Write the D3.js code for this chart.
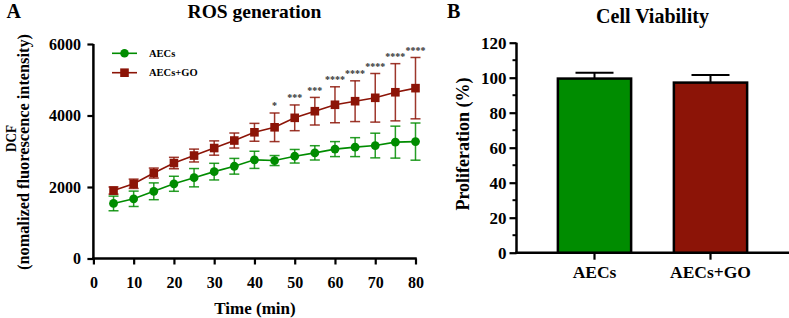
<!DOCTYPE html>
<html>
<head>
<meta charset="utf-8">
<script src="https://cdn.jsdelivr.net/npm/d3@7"></script>
<style>
  html, body { margin: 0; padding: 0; background: #fff; }
  svg { display: block; }
  svg text { font-family: "Liberation Serif", "Times New Roman", serif !important; font-weight: bold; }
</style>
</head>
<body>
<svg id="chart" width="789" height="318"></svg>
<script>
// ---------- Data ----------
const minutes = [5, 10, 15, 20, 25, 30, 35, 40, 45, 50, 55, 60, 65, 70, 75, 80];
const aecsMean = [1540, 1670, 1880, 2090, 2260, 2430, 2580, 2760, 2740, 2860, 2955, 3060, 3115, 3160, 3255, 3270];
const aecsSD   = [205, 215, 235, 210, 256, 233, 220, 240, 140, 190, 200, 210, 265, 345, 447, 520];
const goMean   = [1900, 2090, 2390, 2670, 2880, 3090, 3300, 3530, 3670, 3935, 4120, 4300, 4400, 4495, 4650, 4765];
const goSD     = [100, 130, 140, 160, 180, 200, 210, 250, 400, 360, 386, 503, 570, 680, 800, 858];
const sigLabels = ["", "", "", "", "", "", "", "", "*", "***", "***", "****", "****", "****", "****", "****"];
const timeTicks = [0, 10, 20, 30, 40, 50, 60, 70, 80];
const dcfTicks = [0, 2000, 4000, 6000];

const groups = ["AECs", "AECs+GO"];
const viability = [99.5, 97.2];
const viabilitySD = [3.4, 4.4];
const profTicks = [0, 20, 40, 60, 80, 100, 120];
const profMinorTicks = [10, 30, 50, 70, 90, 110];

const GREEN = "#008c00";
const RED = "#8c1407";
const SERIF = "'Liberation Serif', 'Times New Roman', serif";

const svg = d3.select("#chart");

function styleTickText(sel, size) {
  sel.style("font-family", SERIF).style("font-weight", "bold").style("font-size", size + "px").attr("fill", "#000");
}

// ---------- Panel A ----------
const xA = d3.scaleLinear().domain([0, 80]).range([93.4, 415.5]);
const yA = d3.scaleLinear().domain([0, 6000]).range([258.5, 44]);

const gA = svg.append("g");

const axXA = gA.append("g").attr("transform", `translate(0,${yA(0)})`)
  .call(d3.axisBottom(xA).tickValues(timeTicks).tickSize(6).tickPadding(12.5).tickFormat(d3.format("d")));
const axYA = gA.append("g").attr("transform", `translate(${xA(0)},0)`)
  .call(d3.axisLeft(yA).tickValues(dcfTicks).tickSize(6).tickPadding(6.5).tickFormat(d3.format("d")));
[axXA, axYA].forEach(ax => {
  ax.select(".domain").attr("stroke", "#000").attr("stroke-width", 2.5);
  ax.selectAll(".tick line").attr("stroke", "#000").attr("stroke-width", 2.2);
  styleTickText(ax.selectAll(".tick text"), 16);
});
axXA.select(".domain").attr("d", `M${xA(0) - 1.25},0H${xA(80) + 1.25}`);
axYA.select(".domain").attr("d", `M0,${yA(0) + 1.25}V${yA(6000)}`);

function drawSeries(mean, sd, color, shape) {
  const g = gA.append("g");
  const line = d3.line().x((d, i) => xA(minutes[i])).y(d => yA(d));
  g.append("path").datum(mean).attr("d", line).attr("fill", "none")
    .attr("stroke", color).attr("stroke-width", 1.6);
  const eb = g.selectAll(".eb").data(mean).join("g");
  eb.append("line")
    .attr("x1", (d, i) => xA(minutes[i])).attr("x2", (d, i) => xA(minutes[i]))
    .attr("y1", (d, i) => yA(d - sd[i])).attr("y2", (d, i) => yA(d + sd[i]))
    .attr("stroke", color).attr("stroke-width", 1.5).attr("stroke-opacity", 0.85);
  [1, -1].forEach(s => {
    eb.append("line")
      .attr("x1", (d, i) => xA(minutes[i]) - 5).attr("x2", (d, i) => xA(minutes[i]) + 5)
      .attr("y1", (d, i) => yA(d + s * sd[i])).attr("y2", (d, i) => yA(d + s * sd[i]))
      .attr("stroke", color).attr("stroke-width", 1.5).attr("stroke-opacity", 0.85);
  });
  if (shape === "circle") {
    g.selectAll(".m").data(mean).join("circle")
      .attr("cx", (d, i) => xA(minutes[i])).attr("cy", d => yA(d)).attr("r", 4.4)
      .attr("fill", color);
  } else {
    g.selectAll(".m").data(mean).join("rect")
      .attr("x", (d, i) => xA(minutes[i]) - 4.3).attr("y", d => yA(d) - 4.3)
      .attr("width", 8.6).attr("height", 8.6).attr("fill", color);
  }
}
drawSeries(aecsMean, aecsSD, GREEN, "circle");
drawSeries(goMean, goSD, RED, "square");

// significance stars
gA.selectAll(".sig").data(sigLabels).join("text")
  .attr("x", (d, i) => xA(minutes[i]))
  .attr("y", (d, i) => yA(goMean[i] + goSD[i]) - 3.5)
  .attr("text-anchor", "middle").attr("font-size", 10).attr("fill", "#333")
  .text(d => d);

// legend
const legendItems = [
  { label: "AECs", color: GREEN, shape: "circle", y: 53.3 },
  { label: "AECs+GO", color: RED, shape: "square", y: 72.7 }
];
legendItems.forEach(it => {
  gA.append("line").attr("x1", 112).attr("x2", 137).attr("y1", it.y).attr("y2", it.y)
    .attr("stroke", it.color).attr("stroke-width", 1.6);
  if (it.shape === "circle") {
    gA.append("circle").attr("cx", 124.5).attr("cy", it.y).attr("r", 4.3).attr("fill", it.color);
  } else {
    gA.append("rect").attr("x", 120.2).attr("y", it.y - 4.3).attr("width", 8.6).attr("height", 8.6).attr("fill", it.color);
  }
  gA.append("text").attr("x", 149).attr("y", it.y + 3.6).attr("font-size", 10.5).attr("fill", "#000").text(it.label);
});

// titles & labels
gA.append("text").attr("x", 254.5).attr("y", 17.5).attr("text-anchor", "middle").attr("font-size", 19.5).attr("fill", "#000").text("ROS generation");
gA.append("text").attr("x", 6.5).attr("y", 18).attr("font-size", 20).attr("fill", "#000").text("A");
gA.append("text").attr("x", 255).attr("y", 314).attr("text-anchor", "middle").attr("font-size", 17).attr("fill", "#000").text("Time (min)");
gA.append("text").attr("transform", "translate(15.5,138.5) rotate(-90)").attr("text-anchor", "middle")
  .attr("font-size", 15).attr("textLength", 27).attr("lengthAdjust", "spacingAndGlyphs").attr("fill", "#000").text("DCF");
gA.append("text").attr("transform", "translate(29,152) rotate(-90)").attr("text-anchor", "middle")
  .attr("font-size", 16).attr("textLength", 236).attr("lengthAdjust", "spacingAndGlyphs").attr("fill", "#000").text("(nomalized fluorescence intensity)");

// ---------- Panel B ----------
const xB = d3.scaleBand().domain(groups).range([536.5, 768.5]).paddingInner(0.347).paddingOuter(0.1735);
const yB = d3.scaleLinear().domain([0, 120]).range([252.7, 42.7]);
const axLeftB = 516.5;
const gB = svg.append("g");

const axYB = gB.append("g").attr("transform", `translate(${axLeftB},0)`)
  .call(d3.axisLeft(yB).tickValues(profTicks).tickSize(7).tickPadding(3).tickFormat(d3.format("d")));
axYB.select(".domain").attr("d", `M0,${yB(0) + 1.25}V${yB(120)}`).attr("stroke", "#000").attr("stroke-width", 2.5);
axYB.selectAll(".tick line").attr("stroke", "#000").attr("stroke-width", 2.2);
styleTickText(axYB.selectAll(".tick text"), 17);
gB.selectAll(".minor").data(profMinorTicks).join("line")
  .attr("x1", axLeftB - 4).attr("x2", axLeftB).attr("y1", d => yB(d)).attr("y2", d => yB(d))
  .attr("stroke", "#000").attr("stroke-width", 2);

const axXB = gB.append("g").attr("transform", `translate(0,${yB(0)})`)
  .call(d3.axisBottom(xB).tickSize(7).tickPadding(6));
axXB.select(".domain").attr("d", `M${axLeftB - 1.25},0H789`).attr("stroke", "#000").attr("stroke-width", 2.5);
axXB.selectAll(".tick line").attr("stroke", "#000").attr("stroke-width", 2.2);
styleTickText(axXB.selectAll(".tick text"), 17.5);

const barColors = [GREEN, RED];
gB.selectAll(".eb").data(groups).join("g").each(function (d, i) {
  const cx = xB(d) + xB.bandwidth() / 2;
  const g = d3.select(this);
  g.append("line").attr("x1", cx).attr("x2", cx)
    .attr("y1", yB(viability[i])).attr("y2", yB(viability[i] + viabilitySD[i]))
    .attr("stroke", "#000").attr("stroke-width", 2);
  g.append("line").attr("x1", cx - 19).attr("x2", cx + 19)
    .attr("y1", yB(viability[i] + viabilitySD[i])).attr("y2", yB(viability[i] + viabilitySD[i]))
    .attr("stroke", "#000").attr("stroke-width", 2);
});
gB.selectAll(".bar").data(groups).join("rect")
  .attr("x", d => xB(d) + 1.25)
  .attr("y", (d, i) => yB(viability[i]))
  .attr("width", xB.bandwidth() - 2.5)
  .attr("height", (d, i) => yB(0) - yB(viability[i]))
  .attr("fill", (d, i) => barColors[i])
  .attr("stroke", "#000").attr("stroke-width", 2.5);

gB.append("text").attr("x", 652.5).attr("y", 23).attr("text-anchor", "middle").attr("font-size", 20).attr("fill", "#000").text("Cell Viability");
gB.append("text").attr("x", 447).attr("y", 18).attr("font-size", 20).attr("fill", "#000").text("B");
gB.append("text").attr("transform", "translate(469,144) rotate(-90)").attr("text-anchor", "middle")
  .attr("font-size", 18).attr("fill", "#000").text("Proliferation (%)");
</script>
</body>
</html>
